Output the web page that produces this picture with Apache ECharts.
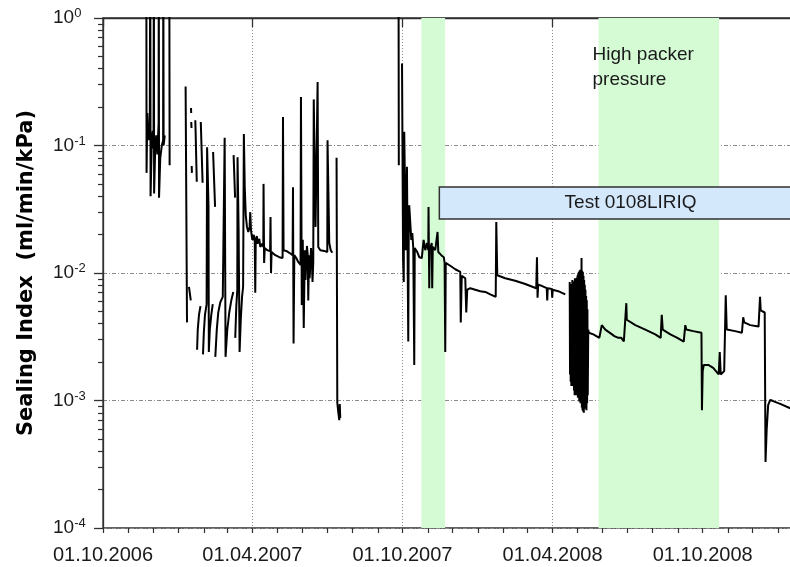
<!DOCTYPE html>
<html>
<head>
<meta charset="utf-8">
<script src="https://cdn.jsdelivr.net/npm/echarts@6/dist/echarts.min.js"></script>
<style>
  html, body { margin: 0; padding: 0; background: #fff; }
  #chart { width: 790px; height: 567px; }
</style>
</head>
<body>
<div id="chart"></div>
<script>
// Sealing index of the packer system, ml/min/kPa.
// Each reading is [elapsed days since startDate, sealing index]; null marks a gap in logging.
const startDate = '2006-10-01';
const axisStart = '2006-10-01';
const axisEnd = '2009-02-21';

const majorTickDates = ['2006-10-01', '2007-04-01', '2007-10-01', '2008-04-01', '2008-10-01'];

// Tests / periods shaded on the chart
const lowFlowPeriod = ['2007-10-24', '2007-11-22'];
const highPackerPeriod = ['2008-05-27', '2008-10-21'];
const highPackerText = 'High packer\npressure';
const testStart = '2007-11-15';
const testBandRange = [0.0265, 0.0472];
const testName = 'Test 0108LIRIQ';

const readingsAutumn2006 = [
  [52.8, 4], [53.1, 0.061], [54.0, 0.18], [55.0, 0.13], [55.6, 0.11], [57.0, 0.13],
  [57.6, 4], [58.0, 0.040], [59.5, 0.11], [60.7, 0.13], [61.6, 0.095],
  [62.0, 4], [62.3, 0.042], [63.7, 0.10], [65.0, 0.12], [66.2, 0.085], [67.8, 0.15],
  [68.0, 4], [68.3, 0.039], [69.8, 0.080], [71.7, 0.10], [73.3, 0.11],
  [73.5, 4], [73.9, 0.10], [75.3, 0.12], [76.0, null],
  [80.8, 4], [81.2, 0.070]
];

const readings2007 = [
  [100.7, 0.29], [102.4, 0.0041], [103.0, null],
  [104.8, 0.0078], [107.0, 0.0061], [107.1, null],
  [107.3, 0.197], [107.5, 0.18], [107.55, null],
  [107.6, 0.153], [107.9, 0.137], [108.0, null],
  [108.1, 0.069], [108.4, 0.061], [108.5, null],
  [112.5, 0.158], [112.9, 0.128], [114.3, 0.052], [114.5, null],
  [114.7, 0.0025], [115.5, 0.0036], [117.0, 0.0047], [118.8, 0.0055], [119.0, null],
  [119.2, 0.153], [121.4, 0.051], [121.6, null],
  [121.9, 0.0023], [122.9, 0.0034], [124.3, 0.0047], [126.3, 0.0057], [126.9, 0.097], [128.6, 0.034],
  [129.0, 0.0024], [130.2, 0.0036], [132.0, 0.0047], [133.8, 0.0057], [134.0, null],
  [134.2, 0.089], [136.6, 0.033], [136.7, null],
  [136.9, 0.0022], [138.7, 0.0036], [140.5, 0.0049], [143.0, 0.0059], [146.0, 0.0065], [148.1, 0.0067],
  [148.3, 0.115], [149.4, 0.0022], [151.5, 0.0036], [153.9, 0.0049], [156.4, 0.0061], [158.8, 0.0071], [159.0, null],
  [159.2, 0.084], [161.0, 0.039], [161.1, null],
  [161.2, 0.0031], [162.5, 0.0055], [163.7, 0.0074], [164.0, 0.081], [165.3, 0.022], [166.5, 0.0024],
  [168.0, 0.0044], [169.5, 0.0065], [170.8, 0.0078],
  [171.7, 0.123], [172.8, 0.047], [174.0, 0.0285], [175.5, 0.023], [177.1, 0.021], [178.7, 0.023],
  [179.5, 0.030], [180.4, 0.0217], [182.0, 0.0182], [183.8, 0.0199], [185.0, 0.0175], [185.6, 0.0070],
  [186.2, 0.0182], [187.5, 0.0195], [188.4, 0.017], [189.3, 0.0175], [190.5, 0.0185], [191.7, 0.016],
  [192.9, 0.0163], [194.0, 0.017], [195.4, 0.016], [195.7, 0.050], [196.4, 0.012], [197.2, 0.0157],
  [200.3, 0.0151], [203.7, 0.0149], [204.2, 0.0275], [204.8, 0.010], [205.5, 0.0146], [210.0, 0.0138],
  [214.9, 0.0133], [218.9, 0.0131], [219.4, 0.167], [220.1, 0.0151], [223.4, 0.0149], [227.1, 0.0144],
  [231.1, 0.0138], [231.6, 0.047], [232.3, 0.0028], [233.2, 0.0138], [235.6, 0.0131], [238.0, 0.0122],
  [240.8, 0.0116], [241.3, 0.24], [242.3, 0.0056], [243.5, 0.0182], [244.7, 0.0037], [246.0, 0.0151],
  [246.9, 0.0088], [247.8, 0.0126], [248.6, 0.0163], [249.6, 0.0138], [250.2, 0.0061], [251.1, 0.0138],
  [251.9, 0.0091], [252.7, 0.0116], [253.6, 0.0157], [254.5, 0.0131], [255.4, 0.0085], [256.3, 0.0122],
  [256.9, 0.23], [259.1, 0.023], [261.6, 0.315], [262.4, 0.016], [264.9, 0.0151], [269.7, 0.0149],
  [273.4, 0.0146], [273.7, 0.11], [275.8, 0.0172], [277.6, 0.0151], [279.5, 0.0144], [280.0, null],
  [284.7, 0.080], [285.6, 0.00096], [286.8, 0.00081], [288.0, 0.00070], [288.6, 0.00094], [289.2, 0.00073]
];

const readingsFromOct2007 = [
  [360.2, 4], [360.6, 0.070], [361.0, null],
  [364.5, 0.44], [365.8, 0.0126], [366.6, 0.0085], [367.2, 0.128], [369.1, 0.0151], [370.5, 0.068],
  [372.1, 0.0029], [372.7, 0.0217], [373.3, 0.034], [375.8, 0.0182], [377.0, 0.0206], [378.2, 0.0157],
  [379.4, 0.0019], [380.0, 0.0157], [383.1, 0.0146], [385.5, 0.0133], [388.6, 0.0131], [390.8, 0.0182],
  [392.8, 0.0151], [394.9, 0.0172], [396.5, 0.0151], [396.8, 0.033], [397.7, 0.0076], [398.3, 0.0151],
  [400.7, 0.0172], [401.3, 0.0076], [402.0, 0.016], [405.0, 0.0151], [407.8, 0.021], [408.7, 0.0146],
  [412.3, 0.0138], [415.4, 0.0133], [416.4, 0.012], [417.2, 0.0024], [417.8, 0.012], [423.3, 0.0114],
  [429.4, 0.0107], [435.5, 0.0102], [436.1, 0.0041], [437.3, 0.0095], [441.6, 0.0091], [442.8, 0.0049],
  [444.0, 0.0074], [447.7, 0.0076], [453.8, 0.0074], [459.9, 0.0072], [466.0, 0.0071], [472.1, 0.0068],
  [478.7, 0.0065], [479.4, 0.0251], [480.6, 0.0096], [490.3, 0.0091], [502.5, 0.0087], [514.7, 0.0082],
  [528.1, 0.0076], [529.0, 0.0133], [529.7, 0.0064], [530.5, 0.0081], [535.4, 0.0079], [540.9, 0.0076],
  [541.5, 0.0061], [542.1, 0.0076], [547.0, 0.0075], [547.6, 0.0064], [548.2, 0.0074], [554.9, 0.0072],
  [563.5, 0.0068], [564.5, null],
  // fast cycling in spring 2008
  [568.9, 0.0085], [569.3, 0.0016], [569.7, 0.0078], [570.1, 0.0014], [570.5, 0.0074], [570.9, 0.0013],
  [571.3, 0.0082], [571.7, 0.0015], [572.1, 0.0088], [572.5, 0.0017], [572.9, 0.0079], [573.3, 0.0013],
  [573.7, 0.0081], [574.1, 0.0012], [574.5, 0.0086], [574.9, 0.0011], [575.3, 0.0091], [575.7, 0.0012],
  [576.1, 0.0084], [576.5, 0.0011], [576.9, 0.0085], [577.3, 0.00135], [577.7, 0.0092], [578.1, 0.00115],
  [578.5, 0.0096], [578.9, 0.00105], [579.3, 0.0099], [579.7, 0.00112], [580.1, 0.0102], [580.5, 0.00098],
  [580.9, 0.0104], [581.3, 0.00117], [581.7, 0.0106], [582.1, 0.00095], [582.5, 0.0098], [582.9, 0.00101],
  [583.3, 0.0131], [583.7, 0.00088], [584.1, 0.0104], [584.5, 0.00084], [584.9, 0.0102], [585.3, 0.00082],
  [585.7, 0.0095], [586.1, 0.0008], [586.5, 0.0088], [586.9, 0.00086], [587.3, 0.0081], [587.7, 0.00092],
  [588.1, 0.0074], [588.5, 0.00088], [588.9, 0.0066], [589.3, 0.00084], [589.7, 0.0061], [590.1, 0.00095],
  [590.5, 0.0052], [590.9, 0.0011], [591.5, 0.0036],
  [592.2, 0.0034], [597.7, 0.0033], [605.0, 0.0031], [608.0, 0.0039], [612.3, 0.0036], [620.5, 0.0033],
  [623.3, 0.0032], [628.2, 0.0031], [631.8, 0.0031], [634.9, 0.0029], [637.3, 0.0029], [637.9, 0.0058],
  [638.5, 0.0043], [648.9, 0.0039], [661.0, 0.0036], [673.2, 0.0033], [679.8, 0.0031], [681.1, 0.0047],
  [682.3, 0.0036], [691.6, 0.0033], [700.1, 0.0031], [707.9, 0.0029], [709.8, 0.0039], [711.0, 0.0036],
  [719.5, 0.0035], [729.5, 0.0034], [730.1, 0.00084], [731.0, 0.0017], [732.3, 0.0019], [737.8, 0.0019],
  [743.8, 0.0018], [750.5, 0.0016], [751.8, 0.0024], [753.0, 0.0016], [757.2, 0.0017], [759.1, 0.0067],
  [760.3, 0.0036], [770.6, 0.0035], [778.8, 0.0034], [780.4, 0.0045], [781.6, 0.0041], [788.9, 0.0039],
  [799.1, 0.0038], [800.9, 0.0065], [801.7, 0.0051], [806.6, 0.0049], [807.6, 0.00033], [809.0, 0.00059],
  [810.8, 0.00092], [813.3, 0.00101], [816.9, 0.00099], [825.5, 0.00094], [837.7, 0.00087]
];

const DAY = 86400000;
const utc = s => { const [y, m, d] = s.split('-').map(Number); return Date.UTC(y, m - 1, d); };
const t0 = utc(startDate);
const xMin = utc(axisStart);
const xMax = utc(axisEnd);

function toSeries(readings) {
  return readings.map(([d, v]) => [t0 + d * DAY, v === null ? '-' : v]);
}
const gap = at => [[t0 + at * DAY, '-']];

const lineData = [].concat(
  toSeries(readingsAutumn2006), gap(90),
  toSeries(readings2007), gap(320),
  toSeries(readingsFromOct2007)
);

// first of every month for the minor ticks on the date axis
const monthTicks = [];
for (let d = new Date(xMin); d.getTime() <= xMax; d = new Date(Date.UTC(d.getUTCFullYear(), d.getUTCMonth() + 1, 1))) {
  monthTicks.push(d.getTime());
}
// 2..9 within each decade, in log10 units, for the minor ticks on the log axis
const minorLogTicks = [];
for (let e = -4; e < 0; e++) for (let k = 2; k <= 9; k++) minorLogTicks.push(e + Math.log10(k));

const pad = n => String(n).padStart(2, '0');
const fmtDate = v => { const d = new Date(v); return pad(d.getUTCDate()) + '.' + pad(d.getUTCMonth() + 1) + '.' + d.getUTCFullYear(); };

const FONT = 'Liberation Sans';
const INK = '#1a1a1a';
const AXIS = '#303030';
// the plot area runs on past the right edge of the page
const gridLeft = 103, gridRight = -30, gridTop = 18, gridBottom = 39;
const plotW = 790 - gridLeft - gridRight;
const plotH = 567 - gridTop - gridBottom;

const chart = echarts.init(document.getElementById('chart'), null, { renderer: 'canvas' });
chart.setOption({
  animation: false,
  grid: { left: gridLeft, right: gridRight, top: gridTop, bottom: gridBottom, show: true,
          outerBoundsMode: 'none', containLabel: false,
          borderColor: AXIS, borderWidth: 1.3, backgroundColor: 'transparent' },
  xAxis: [
    {
      type: 'value', min: xMin, max: xMax, position: 'bottom',
      axisLine: { show: true, lineStyle: { color: AXIS, width: 1.3 } },
      axisTick: { show: true, customValues: majorTickDates.map(utc), length: 9, lineStyle: { color: AXIS, width: 1.3 } },
      axisLabel: { customValues: majorTickDates.map(utc), formatter: fmtDate, margin: 17,
                   fontFamily: FONT, fontSize: 20, color: INK, hideOverlap: false },
      splitLine: { show: true, lineStyle: { color: '#8a8a8a', width: 1, type: [1, 2] } }
    },
    {
      type: 'value', min: xMin, max: xMax, position: 'top', offset: -plotH,
      axisLine: { show: false },
      axisTick: { show: true, inside: true, customValues: monthTicks, length: 5, lineStyle: { color: AXIS, width: 1.2 } },
      axisLabel: { show: false },
      splitLine: { show: false }
    }
  ],
  yAxis: [
    {
      type: 'log', logBase: 10, min: 1e-4, max: 1, position: 'left',
      name: 'Sealing Index  (ml/min/kPa)', nameLocation: 'middle', nameRotate: 90, nameGap: 66,
      nameTextStyle: { fontFamily: 'DejaVu Sans', fontSize: 21, fontWeight: 'bold', color: '#000' },
      axisLine: { show: true, lineStyle: { color: AXIS, width: 1.3 } },
      axisTick: { show: true, length: 9, lineStyle: { color: AXIS, width: 1.3 } },
      axisLabel: {
        margin: 50, align: 'left',
        formatter: v => '{b|10}{s|' + Math.round(Math.log10(v)) + '}',
        rich: {
          b: { fontFamily: FONT, fontSize: 19, color: INK, lineHeight: 22 },
          s: { fontFamily: FONT, fontSize: 13, color: INK, lineHeight: 12, verticalAlign: 'top' }
        }
      },
      splitLine: { show: true, lineStyle: { color: '#8a8a8a', width: 1, type: [4, 2, 1, 2] } }
    },
    {
      type: 'value', min: -4, max: 0, position: 'right', offset: -plotW,
      axisLine: { show: false },
      axisTick: { show: true, inside: true, customValues: minorLogTicks, length: 5, lineStyle: { color: AXIS, width: 1.2 } },
      axisLabel: { show: false },
      splitLine: { show: false }
    }
  ],
  series: [
    {
      name: 'periods', type: 'line', data: [], z: -1, silent: true,
      markArea: {
        silent: true,
        itemStyle: { color: '#d4fbd4' },
        label: { show: false },
        data: [
          [{ xAxis: utc(lowFlowPeriod[0]) }, { xAxis: utc(lowFlowPeriod[1]) }],
          [{ xAxis: utc(highPackerPeriod[0]), name: highPackerText,
             label: { show: true, position: [-6, 24], align: 'left', verticalAlign: 'top', formatter: '{b}',
                      fontFamily: FONT, fontSize: 19, lineHeight: 25, color: INK } },
           { xAxis: utc(highPackerPeriod[1]) }]
        ]
      }
    },
    {
      name: 'Sealing index', type: 'line', data: lineData, showSymbol: false, symbol: 'none',
      connectNulls: false, clip: true, z: 3,
      lineStyle: { color: '#000', width: 2 },
      markArea: {
        silent: true,
        itemStyle: { color: '#d4e8fc', borderColor: AXIS, borderWidth: 1.5 },
        data: [
          [{ xAxis: utc(testStart), yAxis: testBandRange[0], name: testName,
             label: { show: true, position: [126, '50%'], align: 'left', verticalAlign: 'middle', formatter: '{b}',
                      fontFamily: FONT, fontSize: 19, color: INK } },
           { xAxis: xMax, yAxis: testBandRange[1] }]
        ]
      }
    }
  ]
});
</script>
</body>
</html>
